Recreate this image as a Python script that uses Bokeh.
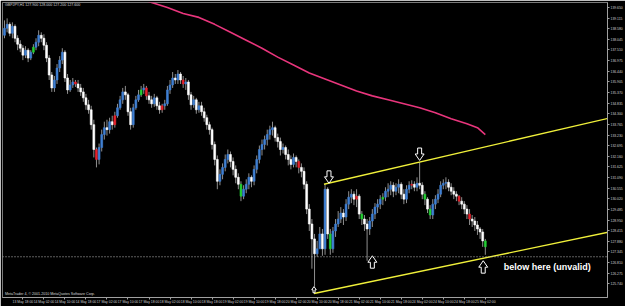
from bokeh.plotting import figure
from bokeh.models import Range1d, FixedTicker, Span, Label, ColumnDataSource, NumeralTickFormatter
from bokeh.core.properties import value
from bokeh.embed import file_html
from bokeh.resources import INLINE

symbol_title = "GBPJPY,H1 127.900 128.000 127.200 127.600"
copyright_text = "MetaTrader 4, \u00a9 2001-2010 MetaQuotes Software Corp."
note_text = "below here (unvalid)"

first_open = 138.25
close = [138.60, 138.80, 138.35, 138.70, 138.10, 137.80, 137.60, 137.25, 137.50, 137.10,
         137.40, 137.65, 137.90, 138.25, 138.10, 137.75, 137.10, 136.25, 135.60, 136.00,
         136.60, 137.00, 137.40, 136.10, 135.50, 135.75, 135.90, 135.80, 135.60, 135.40,
         135.10, 134.75, 134.50, 133.75, 132.50, 132.00, 132.60, 133.25, 133.60, 133.50,
         133.90, 133.75, 134.20, 134.60, 135.00, 135.40, 135.25, 134.40, 133.75, 134.60,
         135.00, 135.25, 135.50, 135.60, 135.20, 135.00, 134.80, 135.10, 134.70, 134.50,
         134.70, 134.80, 135.50, 135.75, 136.10, 136.00, 136.30, 136.00, 135.80, 135.90,
         135.25, 134.75, 135.00, 134.50, 134.70, 134.40, 134.10, 133.75, 133.50, 132.75,
         132.00, 130.90, 131.25, 131.60, 132.00, 132.25, 131.90, 131.50, 131.10, 130.75,
         130.15, 130.50, 130.75, 131.10, 130.90, 131.50, 132.00, 132.50, 132.75, 133.00,
         133.25, 133.50, 133.60, 133.10, 132.90, 132.50, 132.60, 132.25, 132.00, 131.75,
         132.10, 131.90, 131.60, 131.40, 130.75, 129.50, 128.75, 128.00, 127.25, 127.50,
         128.25, 127.50, 130.50, 128.25, 127.50, 128.40, 128.75, 129.00, 129.30, 129.10,
         129.75, 130.10, 130.25, 130.00, 130.15, 129.25, 129.00, 128.75, 128.50, 128.90,
         129.25, 129.60, 129.75, 130.00, 130.10, 130.40, 130.50, 130.70, 130.40, 130.60,
         130.75, 130.25, 130.00, 130.50, 130.70, 130.75, 130.60, 130.80, 130.70, 130.25,
         130.00, 129.50, 129.20, 129.75, 130.00, 130.25, 130.70, 130.80, 130.85, 130.60,
         130.40, 130.25, 130.15, 129.90, 129.75, 129.50, 129.25, 129.00, 128.90, 128.70,
         128.50, 128.35, 127.90, 127.60]
high = [139.00, 139.10, 138.90, 138.90, 138.80, 138.25, 138.00, 137.75, 137.70, 137.60,
        137.50, 137.80, 138.10, 138.50, 138.40, 138.30, 137.90, 137.25, 136.40, 136.20,
        136.80, 137.20, 137.60, 137.50, 136.30, 136.00, 136.10, 136.00, 136.00, 135.80,
        135.60, 135.30, 135.00, 134.70, 134.00, 132.60, 132.80, 133.50, 133.90, 134.00,
        134.10, 134.20, 134.40, 134.80, 135.20, 135.60, 135.70, 135.35, 134.60, 134.80,
        135.20, 135.50, 135.70, 135.80, 135.70, 135.40, 135.20, 135.30, 135.20, 134.90,
        134.80, 135.00, 135.70, 136.00, 136.40, 136.30, 136.50, 136.40, 136.20, 136.10,
        136.00, 135.40, 135.20, 135.10, 134.90, 134.90, 134.60, 134.25, 133.90, 133.60,
        132.90, 132.20, 131.50, 131.80, 132.25, 132.50, 132.40, 132.10, 131.70, 131.30,
        130.90, 130.70, 131.00, 131.30, 131.20, 131.70, 132.20, 132.70, 133.00, 133.20,
        133.50, 133.70, 133.90, 133.70, 133.30, 133.10, 132.80, 132.70, 132.50, 132.20,
        132.30, 132.20, 132.00, 131.80, 131.60, 130.90, 129.75, 129.00, 128.25, 127.90,
        128.60, 128.50, 130.75, 130.60, 128.50, 128.60, 129.00, 129.40, 129.60, 129.50,
        130.00, 130.40, 130.50, 130.40, 130.50, 130.25, 129.40, 129.20, 129.00, 129.10,
        129.50, 129.80, 130.00, 130.20, 130.30, 130.60, 130.80, 130.90, 130.85, 130.80,
        131.00, 130.85, 130.50, 130.70, 130.90, 130.95, 130.90, 131.10, 131.85, 130.85,
        130.40, 130.10, 129.70, 130.00, 130.20, 130.50, 130.90, 131.00, 131.10, 131.00,
        130.80, 130.60, 130.40, 130.20, 130.10, 129.90, 129.70, 129.50, 129.20, 129.10,
        128.90, 128.60, 128.50, 128.00]
low = [138.10, 138.40, 138.20, 138.10, 137.90, 137.50, 137.40, 137.00, 137.10, 136.90,
       137.00, 137.30, 137.50, 137.70, 137.90, 137.50, 136.90, 136.00, 135.40, 135.40,
       135.80, 136.40, 136.80, 135.90, 135.30, 135.40, 135.60, 135.65, 135.40, 135.20,
       134.90, 134.50, 134.30, 133.50, 132.10, 131.60, 131.75, 132.40, 133.00, 133.20,
       133.30, 133.50, 133.60, 134.10, 134.50, 134.80, 135.00, 134.20, 133.50, 133.60,
       134.50, 134.90, 135.15, 135.30, 135.00, 134.80, 134.60, 134.65, 134.50, 134.30,
       134.35, 134.50, 134.70, 135.30, 135.60, 135.80, 135.80, 135.80, 135.60, 135.50,
       135.00, 134.50, 134.60, 134.30, 134.35, 134.20, 133.90, 133.50, 133.25, 132.50,
       131.70, 130.50, 130.70, 131.00, 131.40, 131.80, 131.60, 131.20, 130.80, 130.50,
       129.90, 130.00, 130.30, 130.50, 130.60, 130.70, 131.30, 131.80, 132.20, 132.50,
       132.70, 133.00, 133.20, 132.90, 132.60, 132.20, 132.30, 132.00, 131.70, 131.50,
       131.60, 131.60, 131.30, 131.10, 130.50, 129.25, 128.40, 126.50, 125.60, 127.10,
       127.75, 127.15, 127.20, 128.00, 127.20, 127.30, 128.10, 128.60, 128.80, 128.70,
       128.90, 129.50, 129.80, 129.70, 129.60, 129.00, 128.70, 128.40, 126.90, 128.20,
       128.60, 129.00, 129.30, 129.50, 129.70, 129.90, 130.10, 130.20, 130.10, 130.20,
       130.30, 130.00, 129.75, 129.80, 130.30, 130.50, 130.40, 130.40, 130.50, 130.00,
       129.70, 129.30, 129.00, 129.00, 129.50, 129.80, 130.10, 130.50, 130.50, 130.40,
       130.20, 130.00, 129.90, 129.70, 129.50, 129.25, 129.00, 128.70, 128.60, 128.40,
       128.20, 128.00, 127.60, 127.20]
red_bars = [27, 35, 42, 54, 60, 68, 112, 134, 155, 173, 177]
green_bars = [11, 52, 90, 124, 136, 144, 160, 162, 183]

ma_bars = [50, 56, 62, 68, 74, 80, 86, 92, 98, 104, 110, 116, 122, 128, 134, 140, 146,
           152, 158, 164, 170, 176, 180, 183]
ma_vals = [140.15, 139.90, 139.65, 139.35, 139.15, 138.80, 138.40, 138.00, 137.60, 137.15,
           136.75, 136.35, 136.05, 135.75, 135.45, 135.20, 135.00, 134.80, 134.60, 134.35,
           134.05, 133.80, 133.60, 133.25]

upper_bars = [121.6, 230.3]
upper_prices = [130.75, 134.085]
lower_bars = [117.8, 230.3]
lower_prices = [125.25, 128.35]

level_price = 127.10
last_price = 127.60

arrow_bars = [123.5, 158.0, 140.0, 182.2, 117.8]
arrow_prices = [131.10, 132.25, 126.85, 126.60, 125.45]
arrow_dirs = ["down", "down", "up", "up", "up"]
arrow_scale = [1.0, 1.0, 1.0, 1.0, 0.5]
note_bar = 190.0
note_price = 126.60

price_ticks = [139.650, 139.115, 138.580, 138.045, 137.510, 136.975, 136.440, 135.905,
               135.370, 134.835, 134.300, 133.765, 133.230, 132.695, 132.160, 131.625,
               131.090, 130.555, 130.020, 129.485, 128.950, 128.415, 127.880, 127.345,
               126.810, 126.275, 125.740]
date_tick_bars = [-1, 7, 15, 23, 31, 39, 47, 55, 63, 71, 79, 87, 95, 103, 111, 119, 127,
                  135, 143, 151, 159, 167, 175, 183]
date_labels = ["13 May 2010", "13 May 18:00", "14 May 02:00", "14 May 10:00", "14 May 18:00",
               "17 May 02:00", "17 May 10:00", "17 May 18:00", "18 May 02:00", "18 May 10:00",
               "18 May 18:00", "19 May 02:00", "19 May 10:00", "19 May 18:00", "20 May 02:00",
               "20 May 10:00", "20 May 18:00", "21 May 02:00", "21 May 10:00", "21 May 18:00",
               "24 May 02:00", "24 May 10:00", "24 May 18:00", "25 May 02:00"]

X0, X1 = -0.76, 229.5
Y0, Y1 = 125.05, 139.9

# ---- build candle table
n = len(close)
opens = [first_open] + close[:-1]
bars = list(range(n))
colors = []
for i in range(n):
    if i in red_bars:
        colors.append("#e8202a")
    elif i in green_bars:
        colors.append("#22d033")
    elif close[i] >= opens[i]:
        colors.append("#3f80d4")
    else:
        colors.append("#ffffff")
src = ColumnDataSource(dict(x=bars, o=opens, c=close, h=high, l=low,
                            top=[max(a, b) for a, b in zip(opens, close)],
                            bot=[min(a, b) for a, b in zip(opens, close)],
                            col=colors))

p = figure(width=625, height=306, output_backend="svg", toolbar_location=None,
           x_range=Range1d(X0, X1), y_range=Range1d(Y0, Y1),
           y_axis_location="right",
           background_fill_color="#000000", border_fill_color="#000000",
           min_border_left=2, min_border_top=2, min_border_right=0, min_border_bottom=0,
           outline_line_color="#7a7a7a")
p.grid.visible = False

# axes
ya = p.yaxis[0]
ya.ticker = FixedTicker(ticks=price_ticks)
ya.formatter = NumeralTickFormatter(format="0.000")
ya.major_label_text_font_size = "3.4px"
ya.major_label_text_color = "#cfcfcf"
ya.major_label_text_font = "Liberation Sans"
ya.axis_line_color = "#a0a0a0"
ya.major_tick_line_color = "#a0a0a0"
ya.major_tick_out = 2
ya.major_tick_in = 0
ya.minor_tick_line_color = None
ya.major_label_standoff = 1

xa = p.xaxis[0]
xa.ticker = FixedTicker(ticks=date_tick_bars)
xa.major_label_overrides = {b: t for b, t in zip(date_tick_bars, date_labels)}
xa.major_label_text_font_size = "3.4px"
xa.major_label_text_color = "#cfcfcf"
xa.major_label_text_font = "Liberation Sans"
xa.major_label_text_align = "left"
xa.axis_line_color = "#a0a0a0"
xa.major_tick_line_color = "#a0a0a0"
xa.major_tick_out = 2
xa.major_tick_in = 0
xa.minor_tick_line_color = None
xa.major_label_standoff = 0

# level line (dotted)
p.add_layout(Span(location=level_price, dimension="width", line_color="#bdbdbd",
                  line_dash="1 2", line_width=1))

# candles
p.segment(x0="x", y0="l", x1="x", y1="h", source=src, line_color="#8f8f8f", line_width=1)
p.vbar(x="x", width=0.72, top="top", bottom="bot", source=src,
       fill_color="col", line_color="col", line_width=0.6)

# moving average
p.line(ma_bars, ma_vals, line_color="#e8357c", line_width=1.6)

# channel lines
p.line(upper_bars, upper_prices, line_color="#f0f03a", line_width=1.4)
p.line(lower_bars, lower_prices, line_color="#f0f03a", line_width=1.4)

# hollow block arrows (shape built in pixel offsets around each anchor)
px_x = (X1 - X0) / 608.0
px_y = (Y1 - Y0) / 297.0
shape_down = [(-2, -6.5), (2, -6.5), (2, -0.5), (4.5, -0.5), (0, 6), (-4.5, -0.5), (-2, -0.5)]
xs, ys = [], []
for b, pr, d, s in zip(arrow_bars, arrow_prices, arrow_dirs, arrow_scale):
    sign = 1 if d == "down" else -1
    xs.append([b + dx * s * px_x for dx, dy in shape_down])
    ys.append([pr - sign * dy * s * px_y for dx, dy in shape_down])
p.patches(xs, ys, fill_color="#000000", line_color="#ffffff", line_width=1)

# annotation text
p.text(x=[note_bar], y=[note_price], text=[note_text], text_font=value("Liberation Sans"),
       text_font_size="9px", text_font_style="bold", text_color="#ffffff",
       text_align="left", text_baseline="middle")

# title and copyright
p.text(x=[0.2], y=[139.75], text=[symbol_title], text_font=value("Liberation Sans"),
       text_font_size="3.6px", text_color="#d8d8d8", text_align="left", text_baseline="middle")
p.text(x=[0.2], y=[125.22], text=[copyright_text], text_font=value("Liberation Sans"),
       text_font_size="3.6px", text_color="#d8d8d8", text_align="left", text_baseline="middle")

# price labels on axis
p.add_layout(Label(x=X1, y=last_price, x_offset=1, text="%.3f" % last_price,
                   text_font_size="3.6px", text_color="#000000", text_baseline="middle",
                   background_fill_color="#ffffff", text_font="Liberation Sans"))
p.add_layout(Label(x=X1, y=level_price, x_offset=1, text="%.3f" % level_price,
                   text_font_size="3.6px", text_color="#000000", text_baseline="middle",
                   background_fill_color="#bdbdbd", text_font="Liberation Sans"))

open("out.html", "w").write(file_html(p, INLINE))
